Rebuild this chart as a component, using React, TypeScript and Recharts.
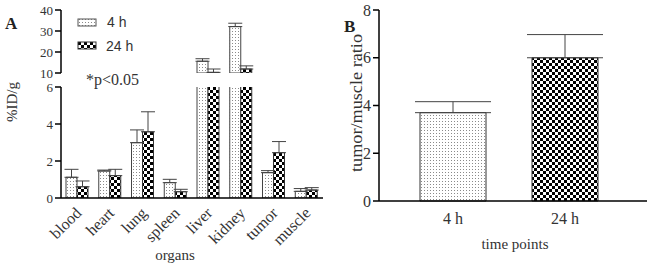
import { BarChart, Bar, XAxis, YAxis, ErrorBar, Cell } from 'recharts';

const organs = ['blood', 'heart', 'lung', 'spleen', 'liver', 'kidney', 'tumor', 'muscle'];
const mean4h = [1.12, 1.46, 2.99, 0.83, 15.6, 32.1, 1.37, 0.36];
const sd4h = [0.43, 0.05, 0.69, 0.18, 1.2, 1.6, 0.11, 0.15];
const mean24h = [0.61, 1.21, 3.58, 0.34, 10.3, 11.9, 2.45, 0.43];
const sd24h = [0.31, 0.34, 1.08, 0.13, 1.6, 1.5, 0.6, 0.13];

const timePoints = ['4 h', '24 h'];
const ratioMean = [3.7, 6.0];
const ratioSd = [0.46, 0.97];

const upperTicks = [10, 20, 30, 40];
const lowerTicks = [0, 2, 4, 6];
const ratioTicks = [0, 2, 4, 6, 8];

const SERIF = '"Liberation Serif", "DejaVu Serif", serif';
const SANS = '"Liberation Sans", Arial, sans-serif';
const TXT = '#333';

// upper part of the broken axis only shows values above the break
const upperData = organs.map((organ, i) => ({
  organ,
  h4: mean4h[i] >= 10 ? mean4h[i] : null,
  e4: mean4h[i] >= 10 ? [0, sd4h[i]] : undefined,
  h24: mean24h[i] >= 10 ? mean24h[i] : null,
  e24: mean24h[i] >= 10 ? [0, sd24h[i]] : undefined,
}));

const lowerData = organs.map((organ, i) => ({
  organ,
  h4: mean4h[i],
  e4: mean4h[i] <= 6 ? [0, sd4h[i]] : undefined,
  h24: mean24h[i],
  e24: mean24h[i] <= 6 ? [0, sd24h[i]] : undefined,
}));

const ratioData = timePoints.map((t, i) => ({ t, v: ratioMean[i], e: [0, ratioSd[i]] }));
const ratioFills = ['url(#dots)', 'url(#checker)'];

const tickStyle = { fontFamily: SERIF, fontSize: 13, fill: TXT };

const OrganTick = (props: any) => {
  const { x, y, payload } = props;
  const tx = x + 5;
  const ty = y + 16;
  return (
    <text
      x={tx}
      y={ty}
      transform={`rotate(-45 ${tx} ${ty})`}
      textAnchor="end"
      fontFamily={SERIF}
      fontSize={16}
      fill={TXT}
    >
      {payload.value}
    </text>
  );
};

export default function App() {
  return (
    <div style={{ position: 'absolute', left: 0, top: 0, width: 650, height: 267, background: '#fff' }}>
      <svg width={650} height={267} style={{ position: 'absolute', left: 0, top: 0 }}>
        <defs>
          <pattern id="dots" patternUnits="userSpaceOnUse" width={3} height={3}>
            <rect width={3} height={3} fill="#fff" />
            <rect x={1} y={1} width={1} height={1} fill="#8a8a8a" />
          </pattern>
          <pattern id="checker" patternUnits="userSpaceOnUse" width={6} height={6}>
            <rect width={6} height={6} fill="#fff" />
            <rect x={0} y={0} width={3} height={3} fill="#000" />
            <rect x={3} y={3} width={3} height={3} fill="#000" />
          </pattern>
        </defs>
        <text x={5} y={29} fontFamily={SERIF} fontWeight="bold" fontSize={17} fill="#222">A</text>
        <text x={344} y={32} fontFamily={SERIF} fontWeight="bold" fontSize={17} fill="#222">B</text>
        <text x={17} y={102} transform="rotate(-90 17 102)" textAnchor="middle" fontFamily={SERIF} fontSize={15} fill={TXT}>%ID/g</text>
        <text x={175} y={260} textAnchor="middle" fontFamily={SERIF} fontSize={15} fill={TXT}>organs</text>
        <text
          x={362}
          y={103}
          transform="rotate(-90 362 103)"
          textAnchor="middle"
          fontFamily={SERIF}
          fontSize={16}
          textLength={138}
          lengthAdjust="spacingAndGlyphs"
          fill={TXT}
        >
          tumor/muscle ratio
        </text>
        <text x={515} y={249} textAnchor="middle" fontFamily={SERIF} fontSize={15} fill={TXT}>time points</text>
        <rect x={78} y={19} width={18} height={7} fill="url(#dots)" stroke="#555" strokeWidth={1} />
        <text x={107} y={27} fontFamily={SANS} fontSize={14} fill={TXT}>4 h</text>
        <rect x={78} y={42} width={18} height={7} fill="url(#checker)" stroke="#333" strokeWidth={1} />
        <text x={106} y={51} fontFamily={SANS} fontSize={14} fill={TXT}>24 h</text>
        <text x={86} y={85} fontFamily={SERIF} fontSize={16} fill={TXT}>*p&lt;0.05</text>
      </svg>

      <div style={{ position: 'absolute', left: 0, top: 0 }}>
        <BarChart width={330} height={82} data={upperData} margin={{ top: 10, right: 7, bottom: 9, left: 0 }} barGap={0} barSize={11}>
          <XAxis dataKey="organ" hide />
          <YAxis
            width={61}
            domain={[10, 40]}
            ticks={upperTicks}
            interval={0}
            allowDataOverflow
            stroke="#000"
            strokeWidth={1.5}
            tick={tickStyle}
          />
          <Bar dataKey="h4" fill="url(#dots)" stroke="#444" strokeWidth={1} isAnimationActive={false}>
            <ErrorBar dataKey="e4" width={7} stroke="#444" strokeWidth={1} direction="y" />
          </Bar>
          <Bar dataKey="h24" fill="url(#checker)" stroke="#333" strokeWidth={1} isAnimationActive={false}>
            <ErrorBar dataKey="e24" width={7} stroke="#444" strokeWidth={1} direction="y" />
          </Bar>
        </BarChart>
      </div>

      <div style={{ position: 'absolute', left: 0, top: 0 }}>
        <BarChart width={330} height={260} data={lowerData} margin={{ top: 87, right: 7, bottom: 0, left: 0 }} barGap={0} barSize={11}>
          <XAxis
            dataKey="organ"
            height={62}
            interval={0}
            tickLine={false}
            tickSize={0}
            tickMargin={0}
            stroke="#000"
            strokeWidth={1.5}
            tick={<OrganTick />}
          />
          <YAxis
            width={61}
            domain={[0, 6]}
            ticks={lowerTicks}
            interval={0}
            allowDataOverflow
            stroke="#000"
            strokeWidth={1.5}
            tick={tickStyle}
          />
          <Bar dataKey="h4" fill="url(#dots)" stroke="#444" strokeWidth={1} isAnimationActive={false}>
            <ErrorBar dataKey="e4" width={7} stroke="#444" strokeWidth={1} direction="y" />
          </Bar>
          <Bar dataKey="h24" fill="url(#checker)" stroke="#333" strokeWidth={1} isAnimationActive={false}>
            <ErrorBar dataKey="e24" width={7} stroke="#444" strokeWidth={1} direction="y" />
          </Bar>
        </BarChart>
      </div>

      <div style={{ position: 'absolute', left: 330, top: 0 }}>
        <BarChart width={320} height={267} data={ratioData} margin={{ top: 10, right: 3, bottom: 36, left: 0 }} barSize={66}>
          <XAxis
            dataKey="t"
            height={30}
            padding={{ left: 18, right: 26 }}
            tickLine={false}
            tickMargin={6}
            stroke="#000"
            strokeWidth={1.5}
            tick={{ fontFamily: SERIF, fontSize: 16, fill: TXT }}
          />
          <YAxis
            width={49}
            domain={[0, 8]}
            ticks={ratioTicks}
            interval={0}
            stroke="#000"
            strokeWidth={1.5}
            tick={{ fontFamily: SERIF, fontSize: 16, fill: TXT }}
          />
          <Bar dataKey="v" stroke="#333" strokeWidth={1} isAnimationActive={false}>
            {ratioData.map((d, i) => (
              <Cell key={d.t} fill={ratioFills[i]} />
            ))}
            <ErrorBar dataKey="e" width={38} stroke="#444" strokeWidth={1} direction="y" />
          </Bar>
        </BarChart>
      </div>
    </div>
  );
}
